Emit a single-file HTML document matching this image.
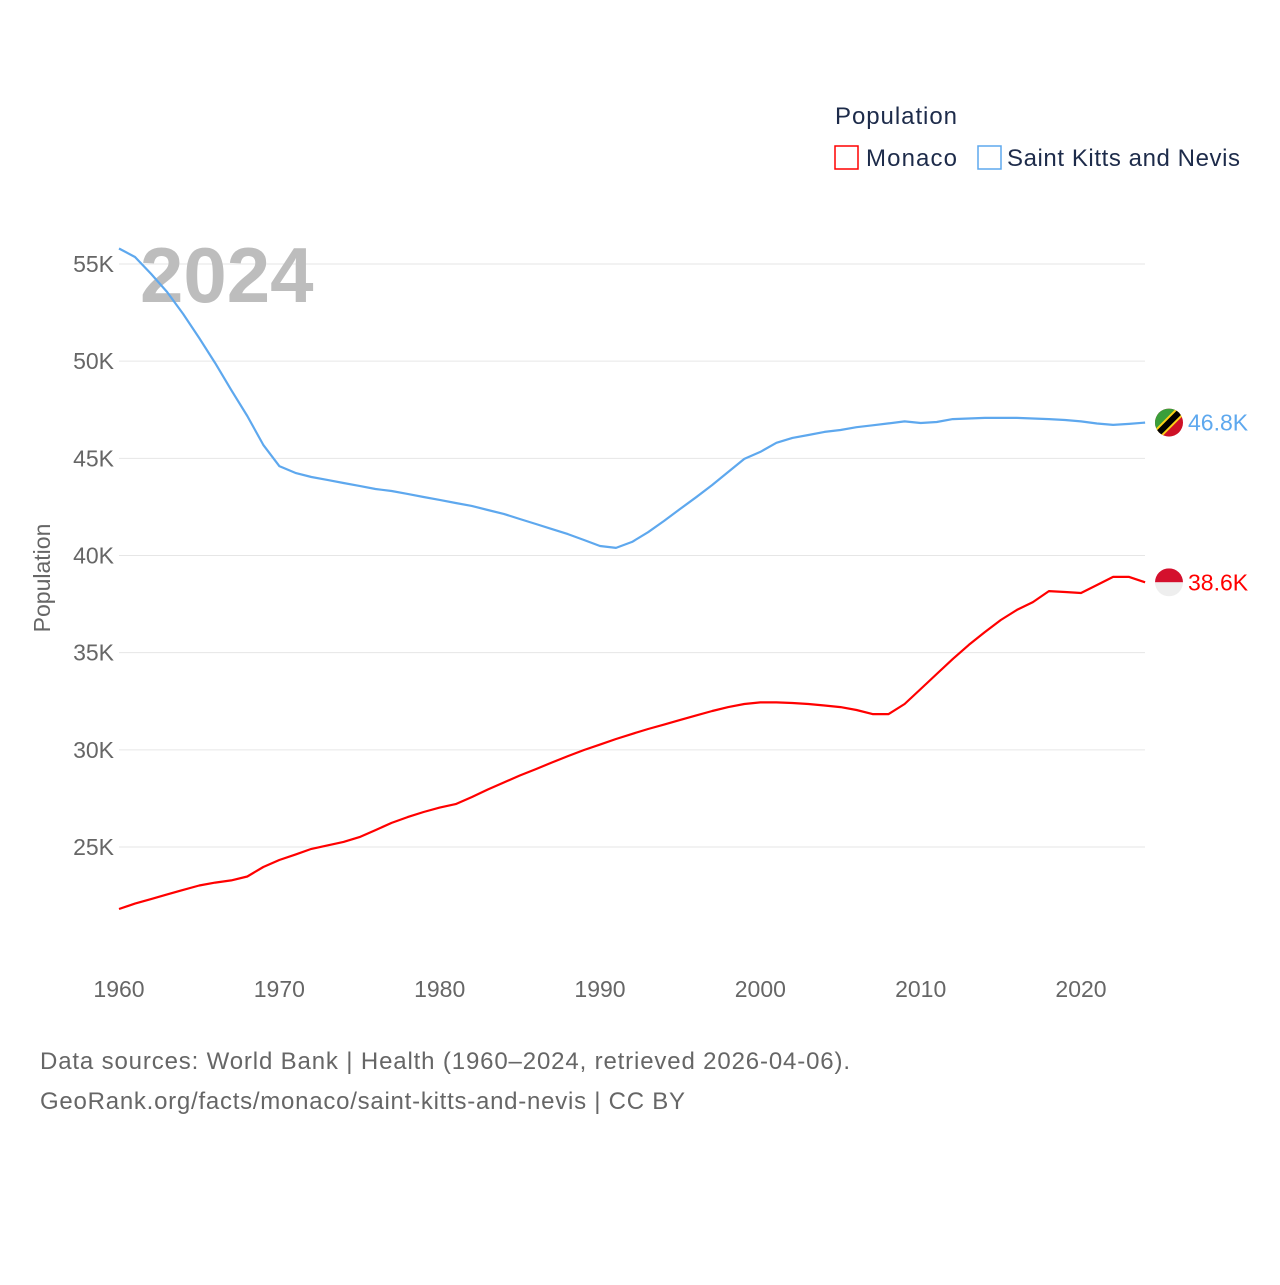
<!DOCTYPE html>
<html><head><meta charset="utf-8"><style>
body{margin:0;background:#fff;font-family:"Liberation Sans",sans-serif}
svg text{font-family:"Liberation Sans",sans-serif}
</style></head><body>
<svg id="chart" width="1280" height="1280" viewBox="0 0 1280 1280" xmlns="http://www.w3.org/2000/svg">
<rect width="1280" height="1280" fill="#fff"/>
<g id="grid"></g>
<text x="140" y="302" font-size="78" font-weight="bold" fill="#bdbdbd">2024</text>
<g id="yticks"></g><g id="xticks"></g><g id="lines"></g>
<text transform="translate(50,578) rotate(-90)" text-anchor="middle" font-size="23" fill="#666">Population</text>
<text x="835" y="124" font-size="24" fill="#1d2b4a" textLength="122">Population</text>
<rect x="835" y="146" width="23" height="23" fill="none" stroke="#ff0000" stroke-width="1.5"/>
<text x="866" y="166" font-size="24" fill="#1d2b4a" textLength="91">Monaco</text>
<rect x="978" y="146" width="23" height="23" fill="none" stroke="#5ea8ee" stroke-width="1.5"/>
<text x="1007" y="166" font-size="24" fill="#1d2b4a" textLength="233">Saint Kitts and Nevis</text>
<text x="40" y="1069" font-size="24" fill="#666" textLength="810">Data sources: World Bank | Health (1960–2024, retrieved 2026-04-06).</text>
<text x="40" y="1109" font-size="24" fill="#666" textLength="645">GeoRank.org/facts/monaco/saint-kitts-and-nevis | CC BY</text>
</svg>
<script>
const years=[];for(let y=1960;y<=2024;y++)years.push(y);
const yTicks=[25000,30000,35000,40000,45000,50000,55000];
const yTickLabels=["25K","30K","35K","40K","45K","50K","55K"];
const xTicks=[1960,1970,1980,1990,2000,2010,2020];
const monaco=[21.81,22.09,22.32,22.56,22.79,23.02,23.17,23.28,23.48,23.97,24.33,24.61,24.9,25.08,25.26,25.51,25.87,26.24,26.54,26.8,27.03,27.21,27.57,27.96,28.32,28.68,29.01,29.35,29.68,29.99,30.27,30.56,30.82,31.07,31.3,31.54,31.77,32.0,32.2,32.36,32.44,32.44,32.41,32.36,32.28,32.2,32.05,31.84,31.84,32.36,33.13,33.9,34.67,35.4,36.06,36.68,37.2,37.6,38.17,38.12,38.07,38.48,38.9,38.9,38.62].map(v=>v*1000);
const skn=[55.8,55.36,54.49,53.56,52.43,51.19,49.9,48.52,47.18,45.69,44.6,44.25,44.04,43.89,43.73,43.58,43.42,43.32,43.17,43.01,42.86,42.7,42.55,42.34,42.14,41.88,41.62,41.36,41.1,40.8,40.49,40.39,40.7,41.2,41.78,42.4,43.0,43.63,44.3,44.97,45.33,45.8,46.05,46.2,46.36,46.46,46.6,46.7,46.8,46.9,46.82,46.87,47.02,47.05,47.08,47.08,47.08,47.05,47.02,46.97,46.9,46.79,46.72,46.77,46.84].map(v=>v*1000);
const NS="http://www.w3.org/2000/svg";
const xS=y=>119+(y-1960)*(1081-119)/60;
const yS=v=>847-(v-25000)*(847-264)/30000;
function mk(tag,attrs,parent,txt){const e=document.createElementNS(NS,tag);for(const k in attrs)e.setAttribute(k,attrs[k]);if(txt!==undefined)e.textContent=txt;document.getElementById(parent).appendChild(e);return e;}
yTicks.forEach((t,i)=>{
 const l=mk('line',{x1:119,x2:1145,y1:yS(t),y2:yS(t),stroke:'#e6e6e6','stroke-width':1},'grid');
 
 
 const tx=mk('text',{x:114,y:yS(t)+8,'text-anchor':'end','font-size':23,fill:'#666'},'yticks',yTickLabels[i]);
 
 
});
xTicks.forEach(t=>{
 const tx=mk('text',{x:xS(t),y:997,'text-anchor':'middle','font-size':23,fill:'#666'},'xticks',t);
 
 
});
function line(data,color,name){
 const d=data.map((v,i)=>(i?'L':'M')+xS(years[i]).toFixed(1)+','+yS(v).toFixed(1)).join('');
 const p=mk('path',{d:d,fill:'none',stroke:color,'stroke-width':2.2,'stroke-linejoin':'round'},'lines');
 
 
}
line(skn,'#5ea8ee','line-saint-kitts-and-nevis');
line(monaco,'#ff0000','line-monaco');
const lastS=skn[skn.length-1],lastM=monaco[monaco.length-1];
const cx=1169;
const ys=yS(lastS), ym=yS(lastM);
const g1=mk('g',{},'lines');


g1.innerHTML=`<clipPath id="c1"><circle cx="${cx}" cy="${ys}" r="14"/></clipPath><g clip-path="url(#c1)"><rect x="${cx-14}" y="${ys-14}" width="28" height="28" fill="#ce1126"/><polygon points="${cx-14},${ys-14} ${cx+14},${ys-14} ${cx-14},${ys+14}" fill="#3a9e3a"/><line x1="${cx-16}" y1="${ys+16}" x2="${cx+16}" y2="${ys-16}" stroke="#fcd116" stroke-width="10"/><line x1="${cx-16}" y1="${ys+16}" x2="${cx+16}" y2="${ys-16}" stroke="#000" stroke-width="6"/></g>`;
const g2=mk('g',{},'lines');


g2.innerHTML=`<clipPath id="c2"><circle cx="${cx}" cy="${ym}" r="14"/></clipPath><g clip-path="url(#c2)"><rect x="${cx-14}" y="${ym-14}" width="28" height="14" fill="#d4102d"/><rect x="${cx-14}" y="${ym}" width="28" height="14" fill="#eeeeee"/></g>`;
const l1=mk('text',{x:1188,y:ys+8,'font-size':23,fill:'#5ea8ee'},'lines',(lastS/1000).toFixed(1)+'K');


const l2=mk('text',{x:1188,y:ym+8,'font-size':23,fill:'#ff0000'},'lines',(lastM/1000).toFixed(1)+'K');


</script>
</body></html>
